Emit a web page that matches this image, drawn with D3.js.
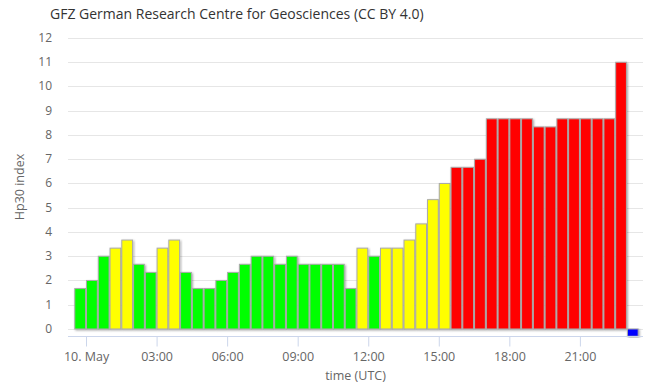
<!DOCTYPE html>
<html>
<head>
<meta charset="utf-8">
<script src="https://cdn.jsdelivr.net/npm/d3@7"></script>
<style>
  body { margin: 0; background: #fff; }
  svg { display: block; font-family: "Open Sans", sans-serif; }
</style>
</head>
<body>
<svg width="652" height="391"></svg>
<script>
// Hp30 values, 10 May 2024, one value per half hour (last one = blue marker)
const hp30 = [1.667, 2, 3, 3.333, 3.667, 2.667, 2.333, 3.333, 3.667, 2.333, 1.667, 1.667,
    2, 2.333, 2.667, 3, 3, 2.667, 3, 2.667, 2.667, 2.667, 2.667, 1.667,
    3.333, 3, 3.333, 3.333, 3.667, 4.333, 5.333, 6, 6.667, 6.667, 7, 8.667,
    8.667, 8.667, 8.667, 8.333, 8.333, 8.667, 8.667, 8.667, 8.667, 8.667, 11, -0.3];
const yTicks = [0, 1, 2, 3, 4, 5, 6, 7, 8, 9, 10, 11, 12];
const xTickLabels = ['10. May', '03:00', '06:00', '09:00', '12:00', '15:00', '18:00', '21:00'];

const day = Date.UTC(2024, 4, 10);
const halfHour = 30 * 60 * 1000;
// each bar ends at its time stamp
const bars = hp30.map((v, i) => ({ end: new Date(day + i * halfHour), value: v }));
const xTickValues = xTickLabels.map((d, i) => new Date(day + i * 6 * halfHour));

function render() {
    const svg = d3.select('svg');
    const left = 68, right = 643, top = 38, bottom = 336;

    const x = d3.scaleUtc()
        .domain([new Date(day - 46 * 60 * 1000), new Date(day + (23 * 60 + 41) * 60 * 1000)])
        .range([left, right]);

    const y = d3.scaleLinear()
        .domain([-0.29, 12])
        .range([bottom, top]);

    const color = v => v < 0 ? '#0000ff' : v < 3.2 ? '#00ff00' : v < 6.5 ? '#ffff00' : '#ff0000';

    // shadow
    const f = svg.append('defs').append('filter').attr('id', 'sh')
        .attr('x', '-20%').attr('y', '-5%').attr('width', '150%').attr('height', '120%');
    f.append('feDropShadow').attr('dx', 1).attr('dy', 1).attr('stdDeviation', 0.8)
        .attr('flood-color', '#000').attr('flood-opacity', 0.35);

    // title
    svg.append('text')
        .attr('x', 50).attr('y', 19)
        .style('font-size', '14px').attr('fill', '#333')
        .text('GFZ German Research Centre for Geosciences (CC BY 4.0)');

    // grid + y labels
    svg.append('g').selectAll('line').data(yTicks).enter().append('line')
        .attr('x1', left).attr('x2', right)
        .attr('y1', d => Math.round(y(d)) + 0.5).attr('y2', d => Math.round(y(d)) + 0.5)
        .attr('stroke', '#e6e6e6');

    svg.append('g').selectAll('text').data(yTicks).enter().append('text')
        .attr('x', 52).attr('y', d => y(d) + 4)
        .attr('text-anchor', 'end')
        .style('font-size', '12px').attr('fill', '#666')
        .text(d => d);

    // bars
    svg.append('g').selectAll('rect').data(bars).enter().append('rect')
        .attr('x', d => x(new Date(+d.end - halfHour)) + 0.5)
        .attr('width', d => x(d.end) - x(new Date(+d.end - halfHour)) - 1)
        .attr('y', d => y(Math.max(0, d.value)))
        .attr('height', d => Math.abs(y(d.value) - y(0)))
        .attr('fill', d => color(d.value))
        .attr('stroke', '#aaa')
        .attr('stroke-width', 1)
        .attr('filter', 'url(#sh)');

    // x axis
    const xAxis = d3.axisBottom(x)
        .tickValues(xTickValues)
        .tickFormat((d, i) => xTickLabels[i])
        .tickSize(10)
        .tickPadding(6);

    const gx = svg.append('g')
        .attr('transform', `translate(0,${bottom + 0.5})`)
        .call(xAxis);
    gx.select('.domain').attr('stroke', '#ccd6eb').attr('d', `M${left},0H${right}`);
    gx.selectAll('.tick line').attr('stroke', '#ccd6eb');
    gx.selectAll('.tick text')
        .attr('fill', '#666')
        .style('font-size', '12.5px')
        .style('font-family', '"Open Sans", sans-serif');

    // axis titles
    svg.append('text')
        .attr('x', (left + right) / 2).attr('y', 380)
        .attr('text-anchor', 'middle')
        .style('font-size', '12.5px').attr('fill', '#666')
        .text('time (UTC)');

    svg.append('text')
        .attr('transform', `translate(24,${(top + bottom) / 2}) rotate(-90)`)
        .attr('text-anchor', 'middle')
        .style('font-size', '12.5px').attr('fill', '#666')
        .text('Hp30 index');
}

render();
</script>
</body>
</html>
